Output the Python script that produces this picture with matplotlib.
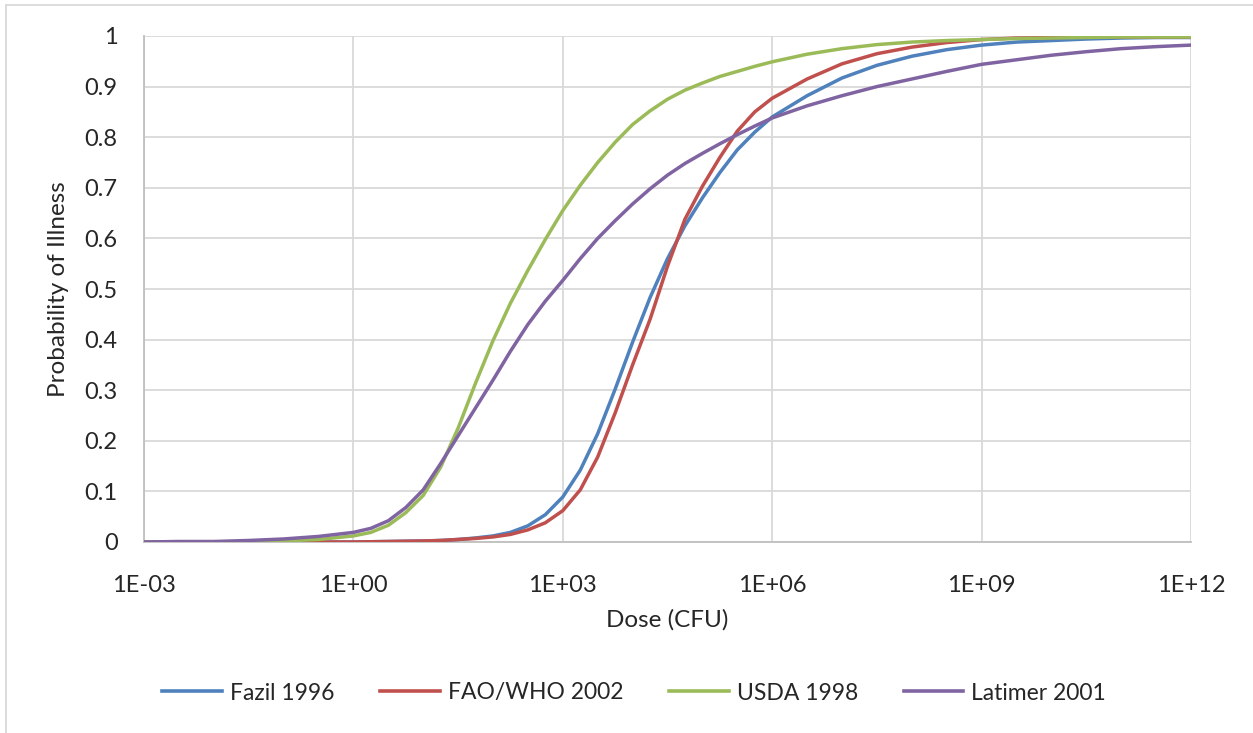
import matplotlib.pyplot as plt
import matplotlib.lines as mlines
import numpy as np

# log10 of dose
log_dose = [-3, -2.5, -2, -1.5, -1, -0.5, 0, 0.25, 0.5, 0.75, 1, 1.25, 1.5, 1.75,
            2, 2.25, 2.5, 2.75, 3, 3.25, 3.5, 3.75, 4, 4.25, 4.5, 4.75, 5, 5.25,
            5.5, 5.75, 6, 6.5, 7, 7.5, 8, 8.5, 9, 9.5, 10, 10.5, 11, 11.5, 12]

fazil = [0, 0, 0, 0, 0, 0, 0, 0.0005, 0.001, 0.0015, 0.002, 0.003, 0.005, 0.008,
         0.012, 0.019, 0.032, 0.054, 0.089, 0.142, 0.214, 0.302, 0.395, 0.483, 0.560, 0.625, 0.680, 0.730,
         0.775, 0.810, 0.840, 0.882, 0.917, 0.942, 0.960, 0.973, 0.982, 0.988, 0.991, 0.994, 0.996, 0.997, 0.997]

faowho = [0, 0, 0, 0, 0, 0, 0, 0.0005, 0.001, 0.0015, 0.002, 0.003, 0.005, 0.007,
          0.010, 0.015, 0.024, 0.038, 0.062, 0.103, 0.168, 0.255, 0.350, 0.440, 0.545, 0.638, 0.703, 0.760,
          0.812, 0.850, 0.877, 0.915, 0.945, 0.965, 0.978, 0.987, 0.993, 0.996, 0.997, 0.998, 0.998, 0.998, 0.998]

usda = [0, 0, 0, 0.001, 0.002, 0.005, 0.012, 0.019, 0.033, 0.058, 0.092, 0.148, 0.225, 0.314,
        0.398, 0.472, 0.537, 0.598, 0.655, 0.705, 0.750, 0.790, 0.825, 0.852, 0.875, 0.893, 0.907, 0.920,
        0.930, 0.940, 0.949, 0.964, 0.975, 0.983, 0.988, 0.991, 0.993, 0.995, 0.996, 0.997, 0.998, 0.998, 0.998]

latimer = [0, 0.001, 0.001, 0.003, 0.006, 0.011, 0.019, 0.027, 0.042, 0.068, 0.103, 0.155, 0.210, 0.265,
           0.320, 0.377, 0.430, 0.476, 0.517, 0.560, 0.600, 0.635, 0.668, 0.698, 0.725, 0.748, 0.768, 0.787,
           0.805, 0.822, 0.838, 0.862, 0.882, 0.900, 0.915, 0.930, 0.944, 0.953, 0.962, 0.969, 0.975, 0.979, 0.982]

series = [fazil, faowho, usda, latimer]
names = ['Fazil 1996', 'FAO/WHO 2002', 'USDA 1998', 'Latimer 2001']
colors = ['#4F81BD', '#C0504D', '#9BBB59', '#8064A2']

x_ticks = [-3, 0, 3, 6, 9, 12]
x_labels = ['1E-03', '1E+00', '1E+03', '1E+06', '1E+09', '1E+12']
y_ticks = [0, 0.1, 0.2, 0.3, 0.4, 0.5, 0.6, 0.7, 0.8, 0.9, 1]
y_labels = ['0', '0.1', '0.2', '0.3', '0.4', '0.5', '0.6', '0.7', '0.8', '0.9', '1']

plt.rcParams['font.family'] = ['Lato', 'DejaVu Sans']

fig = plt.figure(figsize=(12.53, 7.33), dpi=100)
ax = fig.add_axes([144/1253, 1-542/733, (1191-144)/1253, (542-36)/733])

dose = 10.0 ** np.array(log_dose)
for i in range(len(series)):
    ax.plot(dose, series[i], color=colors[i], lw=2.5, solid_capstyle='round',
            solid_joinstyle='round', zorder=3+i)

ax.set_xscale('log')
ax.set_xlim(1e-3, 1e12)
ax.set_ylim(0, 1)
ax.set_xticks([10.0**t for t in x_ticks])
ax.set_xticklabels(x_labels)
ax.minorticks_off()
ax.set_yticks(y_ticks)
ax.set_yticklabels(y_labels)
ax.tick_params(axis='both', length=0, labelsize=17, colors='#262626')
ax.tick_params(axis='x', pad=24)
ax.tick_params(axis='y', pad=19)
ax.grid(True, color='#d9d9d9', lw=1.3)
ax.set_axisbelow(True)
for s in ['top', 'right']:
    ax.spines[s].set_visible(False)
for s in ['left', 'bottom']:
    ax.spines[s].set_color('#bfbfbf')
    ax.spines[s].set_linewidth(1.3)

ax.set_xlabel('Dose (CFU)', fontsize=17.5, color='#262626', labelpad=9)
ax.set_ylabel('Probability of Illness', fontsize=17.5, color='#262626', labelpad=11)

handles = [mlines.Line2D([], [], color=colors[i], lw=2.6, label=names[i]) for i in range(4)]
fig.legend(handles=handles, loc='center', bbox_to_anchor=(634/1253, 1-693/733), ncol=4,
           frameon=False, fontsize=16.5, handlelength=2.6, columnspacing=2.0, handletextpad=0.35,
           labelcolor='#262626')

# chart border
fig.add_artist(mlines.Line2D([6/1253, 6/1253], [0, 1-5/733], color='#d9d9d9', lw=1.3))
fig.add_artist(mlines.Line2D([6/1253, 1], [1-5/733, 1-5/733], color='#d9d9d9', lw=1.3))

plt.savefig('out.png', dpi=100)
